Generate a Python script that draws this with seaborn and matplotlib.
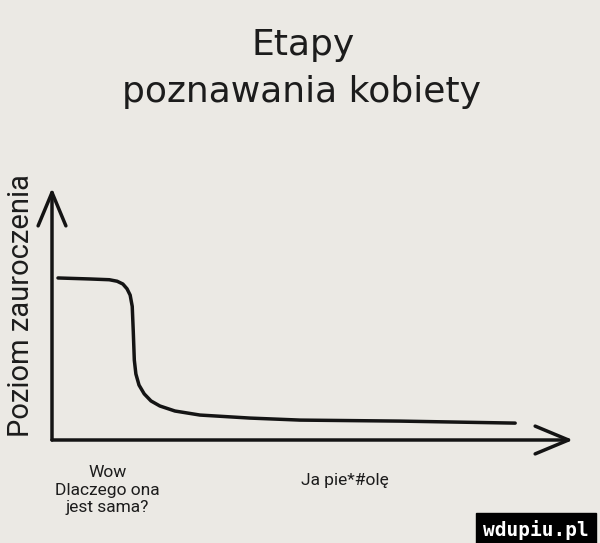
import matplotlib
matplotlib.use("Agg")
import matplotlib.pyplot as plt
import matplotlib.transforms as mtransforms
import seaborn as sns
import pandas as pd

# ---- data ----
title_lines = ["Etapy", "poznawania kobiety"]
y_label = "Poziom zauroczenia"
stage_x = [1.15, 7.3, 11.0, 12.5, 13.6, 14.4, 15.0, 15.4, 15.6, 15.8, 16.1, 16.7,
           17.7, 19.0, 20.7, 23.6, 28.4, 38.0, 47.6, 66.8, 88.9]
fascination = [64.3, 63.9, 63.6, 63.0, 61.9, 60.0, 57.5, 53.0, 43.0, 31.7, 26.2, 21.8,
               18.3, 15.5, 13.5, 11.5, 9.9, 8.7, 7.9, 7.5, 6.7]
stage_labels = ["Wow\nDlaczego ona\njest sama?", "Ja pie*#olę"]
stage_label_x = [10.6, 56.3]
watermark = "wdupiu.pl"

BG = "#ebe9e4"
INK = "#141414"

sns.set_theme(style="white")
plt.rcParams["font.family"] = ["Roboto", "DejaVu Sans"]

W, H = 600, 543
fig = plt.figure(figsize=(W / 100, H / 100), dpi=100, facecolor=BG)
# axes box in pixels: left 52, right 573, top 188, bottom 440
ax = fig.add_axes([52 / W, (H - 440) / H, (573 - 52) / W, (440 - 188) / H])
ax.set_facecolor("none")

df = pd.DataFrame({"etap": stage_x, "poziom": fascination})
sns.lineplot(data=df, x="etap", y="poziom", sort=False, estimator=None,
             color=INK, linewidth=2.5, ax=ax)
for ln in ax.get_lines():
    ln.set_solid_joinstyle("round")
    ln.set_solid_capstyle("round")

ax.set_xlim(0, 100)
ax.set_ylim(0, 100)
ax.set_xticks([])
ax.set_yticks([])
ax.set_xlabel("")
ax.set_ylabel("")
for s in ax.spines.values():
    s.set_visible(False)

arrow = dict(arrowstyle="->,head_length=2.4,head_width=1.0", color=INK,
             linewidth=2.5, mutation_scale=10, shrinkA=0, shrinkB=0)
ax.annotate("", xy=(0, 1), xytext=(0, 0), xycoords="axes fraction",
            textcoords="axes fraction", arrowprops=arrow, annotation_clip=False)
ax.annotate("", xy=(1, 0), xytext=(0, 0), xycoords="axes fraction",
            textcoords="axes fraction", arrowprops=arrow, annotation_clip=False)

# title
fig.text(0.505, 1 - 55 / H, title_lines[0], ha="center", va="baseline",
         fontsize=26, color="#1c1c1c", family=["DejaVu Sans"])
fig.text(0.503, 1 - 102 / H, title_lines[1], ha="center", va="baseline",
         fontsize=26, color="#1c1c1c", family=["DejaVu Sans"])

# y label
fig.text(21 / W, 1 - 306 / H, y_label, rotation=90, ha="center", va="center",
         fontsize=21, color="#1c1c1c")

# stage labels under the x axis
trans = mtransforms.blended_transform_factory(ax.transData, fig.transFigure)
ax.text(stage_label_x[0], 1 - 490 / H, stage_labels[0], transform=trans,
        ha="center", va="center", fontsize=12.5, color="#1c1c1c", linespacing=1.22)
ax.text(stage_label_x[1], 1 - 481 / H, stage_labels[1], transform=trans,
        ha="center", va="center", fontsize=12.5, color="#1c1c1c")

# watermark
fig.text(536 / W, 1 - 530 / H, watermark, ha="center", va="center",
         fontsize=14, color="white", family=["DejaVu Sans Mono"], weight="bold",
         bbox=dict(boxstyle="square,pad=0.35", facecolor="black", edgecolor="black"))

fig.savefig("out.png", dpi=100, facecolor=BG)
